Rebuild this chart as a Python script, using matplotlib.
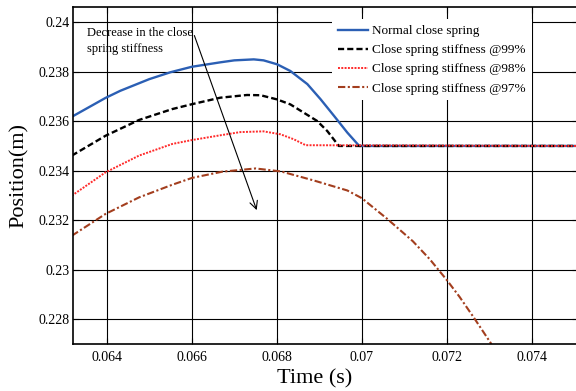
import numpy as np
import matplotlib.pyplot as plt

# Datos
t_normal = [0.06318, 0.06397, 0.06432, 0.0650, 0.0655, 0.0660, 0.06667, 0.0670, 0.06746, 0.06769,
            0.06801, 0.06832, 0.06872, 0.06903, 0.06935, 0.06966, 0.06994, 0.0751]
y_normal = [0.23618, 0.23694, 0.23723, 0.23770, 0.23798, 0.23820, 0.23838, 0.23846, 0.23850, 0.23846,
            0.23830, 0.23803, 0.23750, 0.23689, 0.23621, 0.23554, 0.23500, 0.23500]

t_99 = [0.06318, 0.06397, 0.06476, 0.06554, 0.06601, 0.06667, 0.06730, 0.06762, 0.06801,
        0.06832, 0.06864, 0.06895, 0.06919, 0.06946, 0.0751]
y_99 = [0.23461, 0.23541, 0.23605, 0.23649, 0.23669, 0.23695, 0.23706, 0.23705, 0.23688,
        0.23668, 0.23634, 0.23601, 0.23560, 0.23500, 0.23500]

t_98 = [0.06318, 0.06397, 0.06476, 0.06554, 0.06601, 0.06667, 0.06714, 0.06769, 0.06809,
        0.06840, 0.06868, 0.0751]
y_98 = [0.23299, 0.23393, 0.23461, 0.23508, 0.23524, 0.23543, 0.23556, 0.23559, 0.23547,
        0.23527, 0.23503, 0.23500]

t_97 = [0.06318, 0.06397, 0.06476, 0.06554, 0.06601, 0.06672, 0.0675, 0.0681, 0.06888, 0.06966,
        0.0700, 0.0706, 0.0712, 0.0716, 0.0718, 0.0720, 0.0723, 0.07266, 0.07305]
y_97 = [0.23137, 0.23225, 0.23292, 0.23343, 0.23371, 0.23396, 0.23409, 0.23397, 0.23360, 0.23320,
        0.23289, 0.23205, 0.23115, 0.23042, 0.23000, 0.22958, 0.22890, 0.22800, 0.22699]

labels = ['Normal close spring', 'Close spring stiffness @99%',
          'Close spring stiffness @98%', 'Close spring stiffness @97%']

xticks = [0.064, 0.066, 0.068, 0.070, 0.072, 0.074]
xtick_labels = ['0.064', '0.066', '0.068', '0.07', '0.072', '0.074']
yticks = [0.228, 0.230, 0.232, 0.234, 0.236, 0.238, 0.240]
ytick_labels = ['0.228', '0.23', '0.232', '0.234', '0.236', '0.238', '0.24']

plt.rcParams['font.family'] = ['Liberation Serif', 'DejaVu Serif']

fig = plt.figure(figsize=(5.76, 3.91), dpi=100)
ax = fig.add_axes([0.126, 0.12, 0.877, 0.861])

ax.plot(t_normal, y_normal, color='#2b5fb4', lw=1.7, label=labels[0])
ax.plot(t_99, y_99, color='black', lw=1.7, ls=(0, (2.6, 1.3)), label=labels[1])
ax.plot(t_98, y_98, color='#ff2a2a', lw=1.4, ls=(0, (1, 0.7)), label=labels[2])
ax.plot(t_97, y_97, color='#a33e1e', lw=1.5, ls=(0, (3.5, 1.2, 1, 1.2)), label=labels[3])

ax.set_xlim(0.063197, 0.07508)
ax.set_ylim(0.22699, 0.24060)
ax.set_xticks(xticks)
ax.set_xticklabels(xtick_labels)
ax.set_yticks(yticks)
ax.set_yticklabels(ytick_labels)
ax.tick_params(direction='in', top=True, right=True, labelsize=10, length=4)
ax.tick_params(axis='x', pad=5)
ax.tick_params(axis='y', pad=2)
ax.grid(True, color='black', lw=0.8)
ax.set_axisbelow(True)
for s in ax.spines.values():
    s.set_linewidth(1.2)

ax.set_xlabel('Time (s)', fontsize=16)
ax.xaxis.set_label_coords(0.48, -0.075)
ax.set_ylabel('Position(m)', fontsize=16)
ax.yaxis.set_label_coords(-0.087, 0.5)

leg = ax.legend(loc='upper right', bbox_to_anchor=(0.922, 0.985), fontsize=9.5,
                frameon=True, fancybox=False, edgecolor='none', framealpha=1,
                handlelength=2.3, handletextpad=0.3, labelspacing=0.52, borderpad=0.45)

ax.annotate('', xy=(0.06755, 0.2323), xytext=(0.06604, 0.23957),
            arrowprops=dict(arrowstyle='->', color='black', lw=0.8, mutation_scale=14))
ax.text(0.06354, 0.23981, 'Decrease in the close\nspring stiffness', fontsize=9,
        va='top', ha='left', linespacing=1.4)

plt.savefig('out.png', dpi=100)
